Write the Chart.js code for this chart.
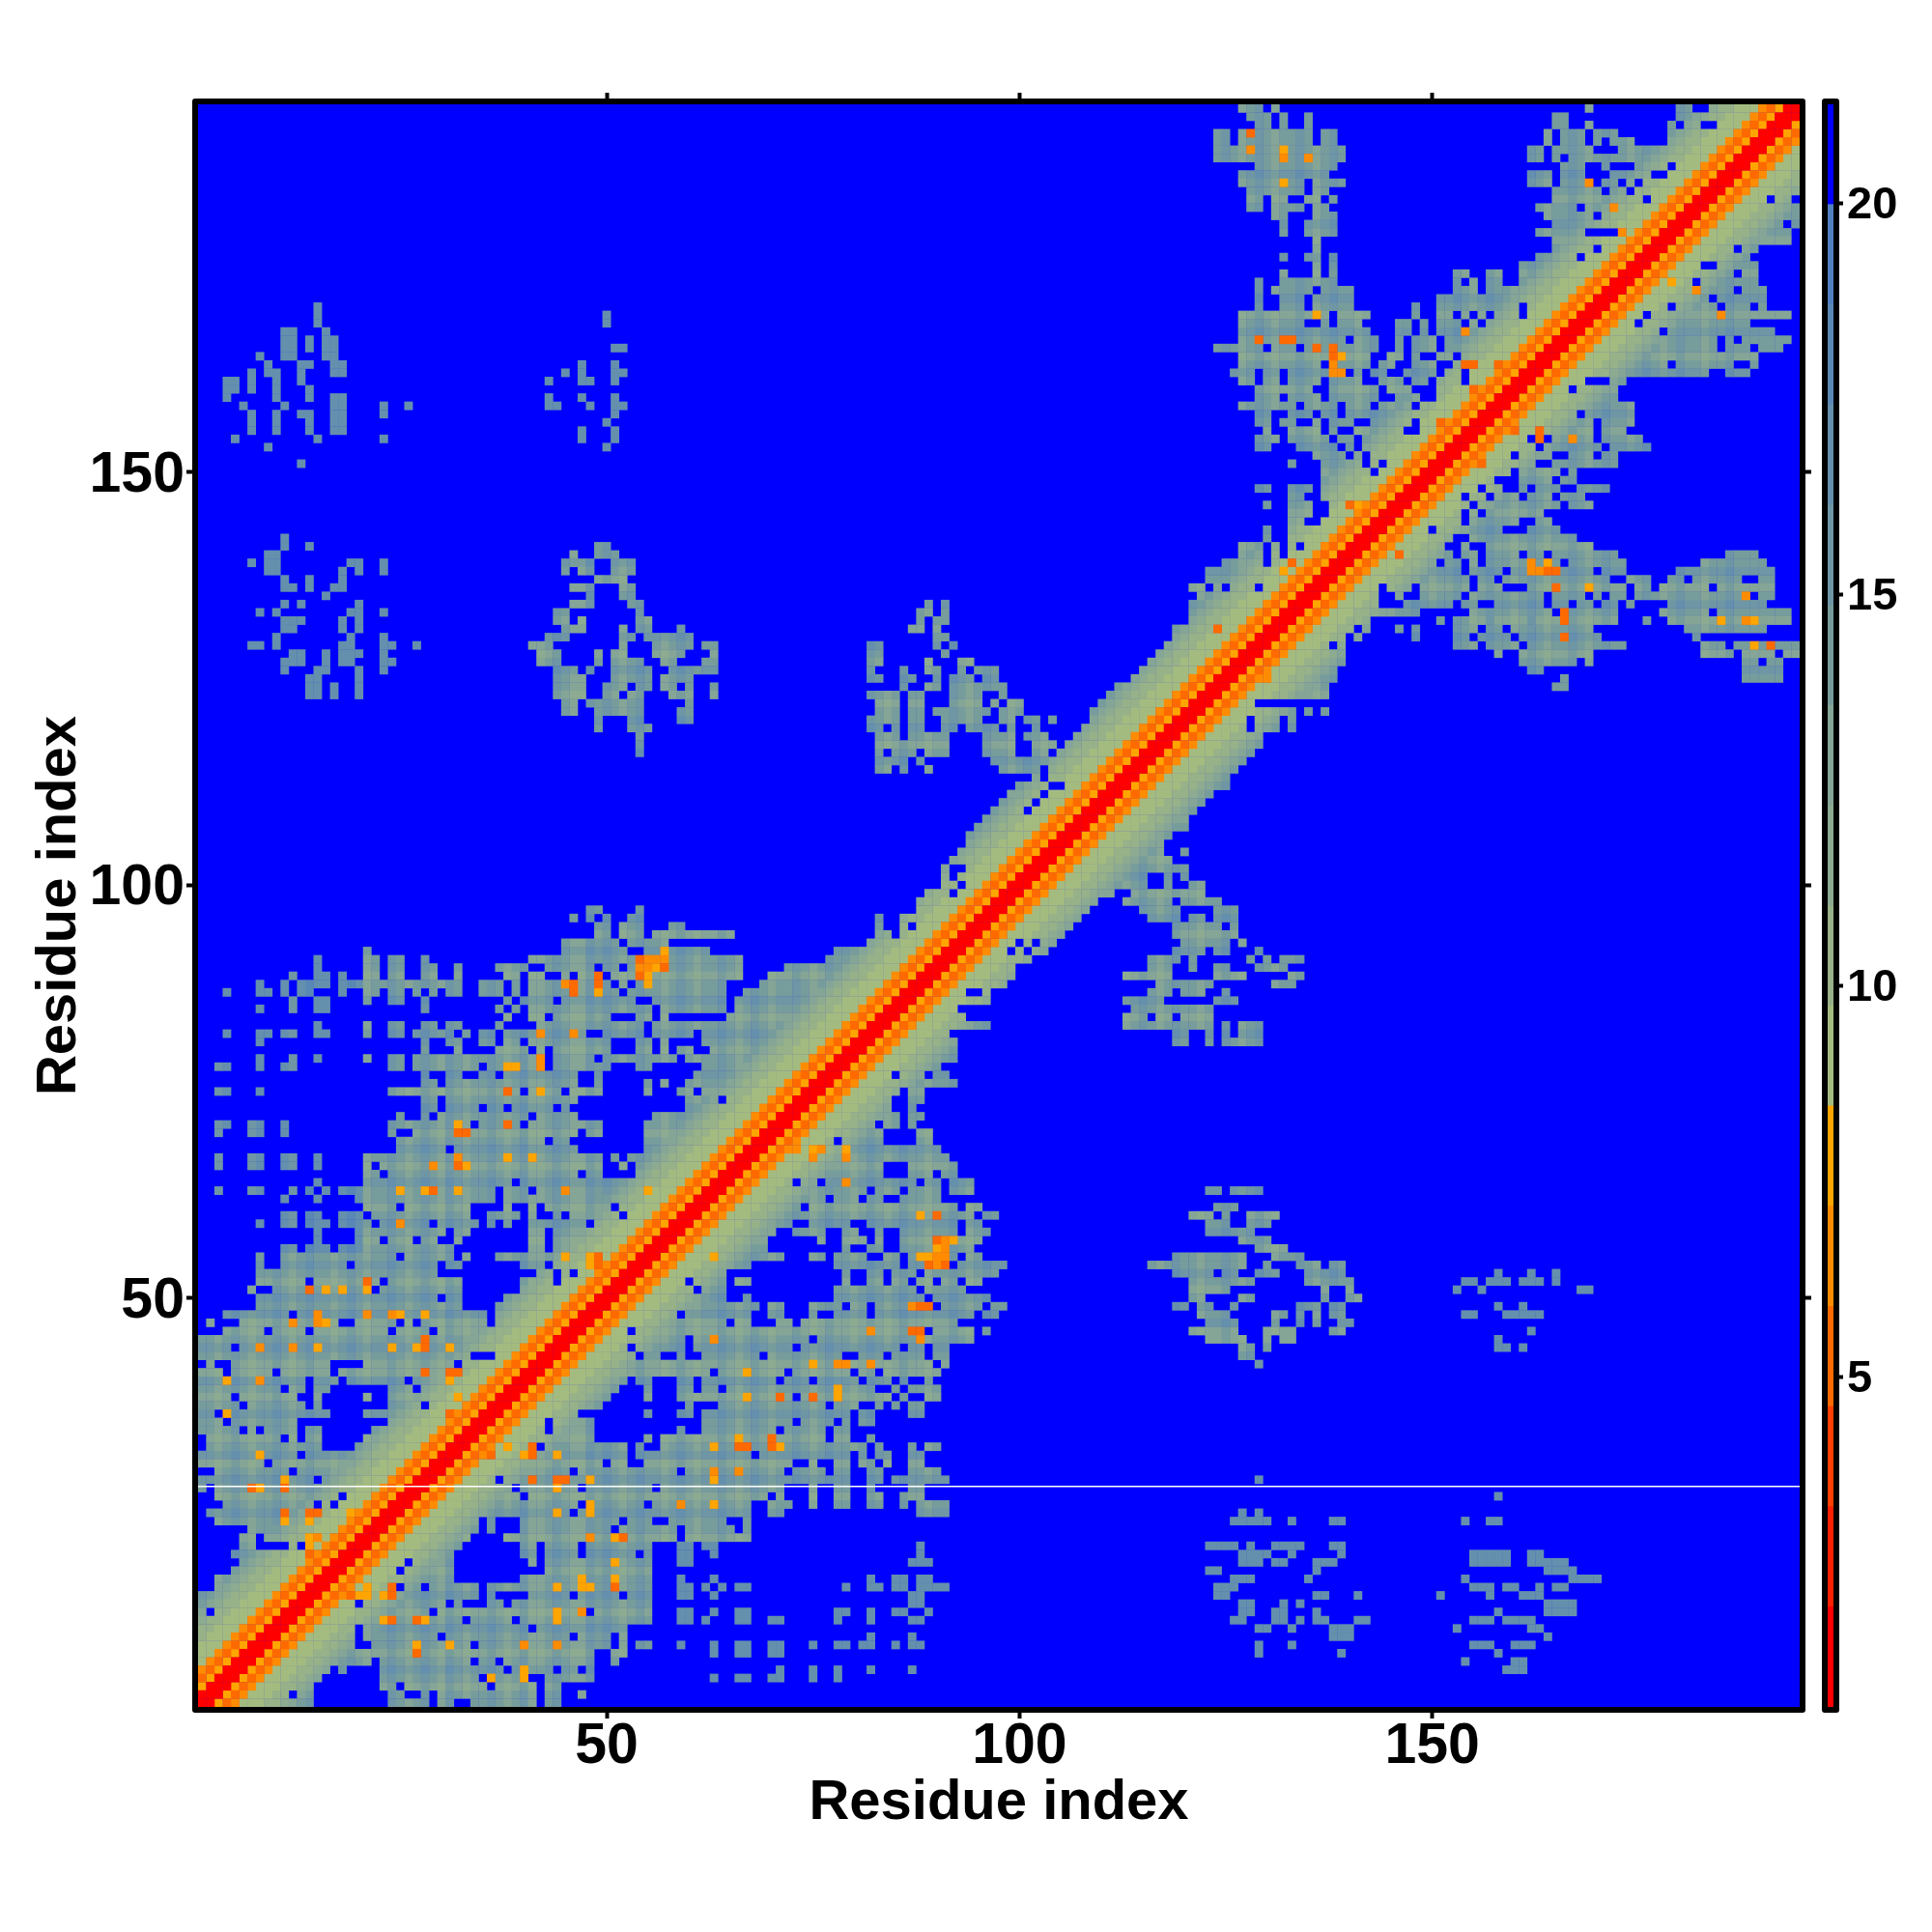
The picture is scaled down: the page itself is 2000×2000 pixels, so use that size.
<!DOCTYPE html>
<html><head><meta charset="utf-8">
<script src="https://cdn.jsdelivr.net/npm/chart.js@4/dist/chart.umd.js"></script>
<style>html,body{margin:0;background:#fff}#w{position:relative;width:2000px;height:2000px}canvas{position:absolute;top:0}</style>
</head><body><div id="w"><canvas id="m" width="2000" height="2000" style="left:0;width:2000px;height:2000px"></canvas><canvas id="b" width="200" height="2000" style="left:1800px;width:200px;height:2000px"></canvas></div>
<script>
const residueCount=194;
const tickResidues=[50,100,150];
const colorbarTicks=[5,10,15,20];
const xTitle="Residue index", yTitle="Residue index";
const levelColors=["#ff0000","#ff2000","#ff4000","#ff6a00","#ff8c00","#ffa500","#a4bb80","#97b188","#8cab90","#85a596","#779c9c","#6e96a5","#6490ad","#5a88b5","#5080c0","#0000ff"];
const levelBreaks=[0.78,2.06,3.34,4.62,5.9,7.18,8.46,9.74,11.02,12.3,13.58,14.86,16.14,17.42,18.7,19.98,21.26];
const bandProfile=[0,0,5,3,4,6,6,6,7,7,8,9,10,11,12];
const whiteLineResidue=27.2;
const sparseBoxes=[[1,56,20,98]];
const rowCorrections=[[116,194,1,64,-1],[1,63,115,141,1],[1,53,166,171,-1],[122,194,122,131,1]];
const residueShade="..+.-.+..-.+.-..+.-.+..-.+.-.+-.+..-.+.-++.-.++-.-.+.-..+.-.+..-.+.-.+..-.+.-..+.-.+.-..+..-.+.-..+.-.+..-.+.-..+.-.+.-..+..-.+.-.+..-.+.-..+.-.+..-.+..-.+.-..+.-.+..-.+.-..+.-.+.-..+..-.";
const lowerLeftRows=["1|1-14 24-28 30-31 34-41 43-44","2|1-11 13-14 24-25 28 30-41 43-44 47","3|1-14 23-24 26-35 37-41 43-44","4|1-15 23-34 36-40 43-48","5|1-16 18 23-37 39-43 45-46 48","6|1-21 23-33 35-36 38-48 51","7|1-48 51-52","8|1-19 22-33 35-50 52 54-55","9|1-19 21-29 31-45 47-50 52","10|1-19 21-40 42-52","11|1-32 34-38 40-55","12|1 3-28 30-47 49-55","13|1-19 21-30 32 36-37 39-55","14|1-34 36 41-45 47-51 53-55","15|3-24 26-27 29-34 36-55","16|3-19 21 23-31 40-55","17|5-19 21-22 24 26-31 43-55","18|6-25 27-31 41 43-55","19|5-31 40-41 43-46 48-53 55","20|6-7 12 14-15 17-25 27-32 40-41 43-46 48-55","21|6-7 9-33 38-55","22|7-15 17-34 36 40-50 52-55","23|3-16 18-34 36 40-51 53-55","24|2-45 47-55","25|4-14 16 18-46 48-54","26|3-17 19 21-39 41-55","27|1 3-38 40-46 48-55","28|1-14 16-36 38-55","29|3-11 13-45 47-55","30|1-8 10-49 51-52 55","31|1-12 14-52 54-55","32|2-15 20-41 43-52 54","33|2-10 12 14-15 21-48 55","34|1-5 7 9-12 14-15 22-42 44-48","35|1-3 5-12 24-42 44-48","36|1-2 4-16 21-46 55","37|1-5 7-13 15 24-27 29-49","38|1-4 6-12 15 21 24-50 55","39|1-10 12-13 15-16 24-26 28-51 55","40|1-13 15-17 19-25 27-52 54-55","41|1-3 5-9 11-16 18-55","42|2 5-16 21-31 33-55","43|1-33 37-53 55","44|1-4 6-52 54-55","45|1-55","46|4-8 10-13 15-23 25-28 30-52 54-55","47|2 6-17 20-24 26 28-35 37-55","48|4-11 13-35 37-55","49|8-32 37-55","50|8-29 31-32 38-55","51|7 10-21 23-32 40-55","52|8-13 15-22 24-32 40-43 45-55","53|8-29 42-43 45 47-55","54|8 11-18 20-29 31-32 40-42 44-55","55|8 11-24 26-31 33 37-55"];
const midLeftRows=["97|48-49 54","96|46 48 50 53-54","95|49-50 52-54 58-59","94|49-50 52-54 56-65","93|45-46 47-51 53-57","92|21 45-46 47-52 55-62","91|15 21-22 24-25 28 41-66","90|15 21-22 24-25 28-29 32 37-39 40 43-48 50-51 53-66","89|12 15-16 18 21-22 24-25 28-29 32 38-39 41-42 45 47-49 51-66","88|8 11 13-16 18-32 35-37 39 41-50 52 54-64","87|4 8-9 11 13-14 18 21-22 24-25 27 29 31-32 35-37 39 41-51 53-64","86|12 15-16 21 24-25 28 38 40-43 45-53 56-64","85|8 12 15-16 28 37 39 41-55 57-64","84|38 41-42 44-50 54-55 57","83|15 21 24-25 28-29 31-32 37 42-54 56-62","82|4 8-9 11-12 15-16 21 24-25 27-31 33 35-36 38-47 50-54 56-60","81|8 28 31-32 35-36 38-39 41-50 54-55 57","80|28 32 37-40 42 44-50 54-55 57 59","79|8 12 15 21 24-25 27-42 44-48 50-58","78|3-4 8 11-12 24-25 27-34 36-42 44-50 54-55","77|28 31-32 35-36 38-46 49","76|28-29 31-46 49 55 57","75|3-4 8 24-39 41-44 46-49 55","74|28-29 31-46","73|28-29 31-34 36-37 39-43 45","72|25 28 30-40 42-46","71|3-4 7-8 11 24-33 35-39 41-49 55","70|3 7-8 11 24 27-46 48-49 55","69|25-42 44-45 55","68|25-30 32-46 55","67|3 7-8 11-12 15 21-49 51 53-55","66|3 7-8 11-12 15 21 23-49 52 54-55","65|21-22 24-46 48-49 54-55","64|15 21-38 40-55","63|3 7-8 12 14 16 18-36 38-40 42-55","62|11 15 20-36 38-55","61|21-24 26-33 38 41 43-50 52-55","60|11-12 14-15 18-20 22-33 36-39 41 44 46-51 53-55","59|8 11-12 14-16 18-21 23-28 30-34 36 38 41-47 49-55","58|15 20-30 32-33 41-42 44-52 54-55","57|15 20-22 24-26 28-29 32 41-42 44-55","56|11-12 14-16 18-31 41-42 44-51 53-55"];
const lowerMidRows=["21|56-58 60-67","22|56-58 60-65 67","23|58-64 67","24|56-67 70-71 88-91","25|56-67 70-72 75 78-79 82-83 86 88-91","26|56-69 71 75 78-79 82-83 86-88","27|57-71 75 78-79 82 87-88","28|56-79 82-83 85-91","29|56-58 60-71 73-76 78-79 82-83 87-90","30|56-72 75 78-79 81-82 84 87-88","31|56-67 69-79 81 83-84 87-88","32|57-81 83 87 89-90","33|57-76 78-79 82","34|59 62-70 72-76 78-79","35|62-72 74-77 79 81-82","36|59-60 62-79 81-82 87-88","37|60 64-76 78-80 83 85 87-88","38|59-72 74-84 86 89-90","39|59-60 62-63 65-82 85 87-90","40|59-60 62-70 72-74 76-80 82-84 86 89","41|56-62 64-71 73-79 81-82 84-90","42|56-89 91","43|56 59 62-68 70-78 81-83 85-88 90-91","44|56-59 61-72 74-85 87-88 90-91","45|56-59 61-74 76-94","46|56-88 90-94 96","47|56-64 66-67 71-72 74-92","48|56-58 60-67 70-71 75 78-81 83-94 96-97","49|56-68 70-71 75-78 80-81 83-89 91-95 97-98","50|56-64 67 78-88 90-96","51|56-60 62-64 78-87 89-93","52|56-59 61-64 66-67 79 82-83 85-86 88-89 91-92 94-95","53|56 58-64 79 82-83 85-87 89-97","54|56-67 78-85 87-91 93-98","55|56-71 75-76 78-81 84-85 87-92 94-95","56|56-69 79 82-83 86-94","57|56-69 76 79-81 83 86-95","58|56-70 73-76 79-80 83 86-92 94-96","59|56-72 75-79 82-92 94-95","60|56-94 96-97","61|56-73 75-92 94-95","62|56-76 78-80 82-83 86-90","63|56-81 83-85 87-90 92-94","64|56-72 74-75 77-87 89-90 92-94","65|56-83 87-89 91-92","66|56-83 87-92","67|56-91","68|56-90","69|56-77 79-83 88-89","70|56-83 88-89","71|56-82 84-85 87","72|56-85 87-88","73|60-84 87","74|60-63 65-84 87-88","75|59-60 62-80 82-85 87-88"];
const bandRows=["76|60-92","77|61-84 86-88 90-91","78|62-90","79|60-92","80|60 63-92","81|62-92","82|62-91","83|63-96","84|65-93","85|66-92","86|66-96","87|67-93 96","88|69-98","89|70-99","90|72-95 97-99","91|77-101","92|78-98 100 102-103","93|82-95 97-99 101 103-104","94|83-84 86-87 89-96 100-105","95|83 86 88-106","96|83 86-87 88-89 91-92 94-107","97|88-93 95-108","98|88-93 95-109","99|89-91 93 96-111","100|91-92 94-112","101|91 93-112","102|91 94-113","103|92-115","104|93-116","105|94-117","106|94-118","107|95-120","108|96-120","109|97-100 102-121","110|98-101 103-122","111|99-102 104-105 107-123","112|100-103 106 108-125","113|102 104-125","114|104-126","115|104-127","116|105-128","117|106-129","118|107-129","119|108-127 129-131 133","120|109-127 129-131 133","121|109-133 135 137","122|110-132 135 137","123|111-126","124|112-126","125|114-126","126|115-126","127|116-126","128|117-122","129|118-122","130|119-122","131|119-122","132|121-122","133|121","134|121-122","135|122","138|123-124"];
const upperRightRows=["194|127-129 131 169 180-181 184-194","193|128-130 132 135 165-166 180-194","192|129-130 132 135 165-166 169 179 181-182 185-194","191|124-125 127-135 137-138 164 166-168 170-172 179-194","190|124-125 127-135 137-138 164 166-168 170 172-174 179-194","189|124-139 162-163 165-169 173-194","188|124-139 162-163 165 167-194","187|129-138 166-168 171 175-178 180-194","186|127-137 162-164 166-168 172-176 179-194","185|127-134 136-139 162-164 166-169 171-172 174 176-180 182-194","184|128-134 136-137 165-170 172-173 175-178 181-194","183|128-129 131-132 135-136 138 165-175 177-178 181-190 192-193","182|128-129 131-134 136-137 163-167 169-171 173-175 177-194","181|131-132 136-138 164-169 171-176 178-194","180|132 135-138 165-175 177-192 194","179|132 135-138 163-167 168 173-175 177-182 184-193","178|136 165-193","177|136 165-169 171-186 188-189","176|132 135-136 138 163-167 169-181 183-188","175|136 138 161-182 185-189","174|132 136 138 153-154 157-158 161-186 188-189","173|129 132-138 153 155 157-158 161-181 183-189","172|129 131-135 137-140 153-155 157-159 160-181 183-186 188-190","171|129 132-134 136-140 151-183 185-190","170|129 132-134 136-140 148 151-160 162-178 180-184 186-188 190","169|127-137 139-142 148 151-152 154 156 158-160 162-175 177-193","168|127-134 137 139-141 146-147 149 151-153 155 157-174 176-188","167|127-142 146-147 149 151-177 179-191","166|127-139 141-143 146 148-150 152-159 161-184 186 188-193","165|124-129 131-133 135-143 146 148-150 152-160 162-184 186-188 190-192","164|127-142 145-146 148 151-152 154-189","163|127-136 138-142 144-145 148-150 153-178 180-186 189","162|126-128 130-131 133-139 141 143-144 147-150 152-153 155-183 186-188","161|127-128 130-131 133-136 138-141 144-146 148-149 151-153 155-168 172-173","160|129-135 138-143 145-147 151-153 155-157 159-166 168-172","159|129-131 133-136 138-143 146-148 151-152 154-159 161-172","158|127-133 135-138 140-142 144-147 149-151 153 155-174","157|129-130 133-135 137-138 140-155 157-167 169-174","156|129-130 132-133 136 138-140 143-147 149-169 171-174","155|130 133-136 138 141-146 149-150 152-169 171-173","154|129-131 133-137 139-140 142-161 165-169 171-175","153|129-130 134-138 140 142-154 157-162 164-170 172-176","152|136-139 141 143-145 147-148 150-159 161-164 167-169 171-172","151|133 137-141 143 145-150 152-162 165-172","150|137-142 144-145 147-155 157-159 161-165 167","149|137-142 145 147-157 161-164 166-167","148|129-130 133-135 137-142 144-155 157-158 161 163-165 168-171","147|133-134 137-141 143-145 147-153 155-156 158-160 162-164 166-168","146|130 133-135 138-143 145-151 153-154 156-165 167-169","145|133-135 138-140 142-149 151-153 155 157-163","144|133-134 137 141-147 149 151-153 155-160 163-164","143|130 133-145 147 149 151-158 162-165","142|130 133-147 149-152 155-167","141|127-129 131 133 135-151 154 157-169","140|127-129 131 133 135-152 154-155 157-160 162-163 165-172 186-189","139|125-129 131-150 152-153 155 157-165 167-173 183-190","138|125-153 155-158 160-169 171-173 180-191","137|123-154 156-157 159-171 174-176 179-180 182-187 190-191","136|121-122 124 126-128 130 132-143 145-147 149-154 156-158 162-173 175-176 178-183 185-191","135|122-140 142-143 146 149-153 155-163 165-168 170 172-173 175-188 190-191","134|123-139 141-143 147-152 154-155 158-163 165-166 168-169 171-172 174 179-190","133|122-148 155-164 166-172 178-183 185-193","132|122-142 151 153-155 157-160 162-165 168-172 179-193","131|122-141 155-156 158-161 163-172 176 179-193","130|122-140 142 146 148 153-155 157-158 160-169 181-190","129|122-139 141 148 153-154 156-159 161-165 167-170 182","128|123-137 139 153-155 157-160 162-173 183-185 187-190 192-194","127|127-139 158 161-169 183-186 188-191 193-194","126|127-139 161-167 169 188-189 191-192","125|125-138 162-163 188-192","124|127-138 166 188-192","123|127-137 165-166","122|127-136"];
const midClusterRows=["134|89 91","133|88-89 91","132|88 90-91","131|87-88 90","130|90-91","129|82-83 90 92","128|82-83 91","127|82-83 89 93-94","126|82 86 89-90 93 95-97","125|82-83 86-87 90 92-94 96-97","124|86 89-90 92-98","123|82-85 87-88 92-95 98","122|83-85 87-88 92-95 97 99-100","121|83-85 87-88 90-96 98-100","120|82-85 87-88 91-95 98-99 101-102 104","119|82-83 85 87-88 91-92 94-97 99 102","118|83-85 87-91 96-99 101-103","117|83-91 96-99 102-104","116|83 85-87 89-91 96-99 102-103","115|83-86 88 97-103","114|83-84 86 89 98-102","81|119-120 123 125-129","82|119-120 123 125 127-129","83|113-123 125 127-129","84|113-115 117-118 120-123","85|114-123","86|113-117 124-126","87|116-118 120-122 125","88|117-123 131-133","89|113-118 124-127 133-134","90|116-118 121 124-125 129-132","91|116-119 121 128 130 132-134","92|119-122 124-125 129","93|120-125 127","94|119-126","95|119-124 126","96|116-119 121-122 124-126","97|115-119 124-126","98|113-118 120-124","99|114-122","100|112-115 118 121-122","101|113-115 118 120","102|114-120","103|115-118","104|117 120","140|49-50","139|46 49-51","138|45-48 51-53","137|45 47-48 51-53","136|49-52","135|46-48 52-53","134|48 52-53","133|46-48 53-54","132|44-45 54","131|44-45 47 54-55","130|45-47 52 54-55 59","129|43-45 52-53 55-60","128|41-43 52 56-60 62-63","127|42-44 49 51-52 56-59 63","126|42-44 49 51-54 57-58 62-63","125|44-46 48 51-55 58-59 60-63","124|44-47 51-55 57-60","123|44-47 50-52 54-55 57-58 60 63","122|44-47 50-51 53-54 58-60 63","121|45-46 48-54 60","120|45-46 49-54 59-60","119|49 53-54 59-60","118|49 53-55","117|54","116|54","115|54","64|123-124 126-129","62|124-126","61|121-123 125 128-131","60|123-125 128-130","59|123-128","58|127-130","57|129-132","56|119-127 131-134","55|116-127 130 134-136 138-139","54|119-123 125-126 129-131 135-139","53|121-128 135-140","52|121-125 137 140","51|121-122 127-128 137 140-141","50|119-120 122-123 126 134-136 138-139","49|122-125 131-132 134 136 138-139","48|123-126 131 134 136 139-140","47|121-126 130-133 138-139","46|123-127 130 132-133","45|127-128 130","44|127-128","43|129"];
const sparseRows=["171|15","170|15 50","169|15 50","168|11-12 16","167|11-12 14 16-17","166|11-12 14 16-17 51-52","165|11-12 14 16-17","164|8 11-12 16-17","163|9 13-14 17-18 47 51","162|7 9-10 13 17-18 45 47 51-52","161|4-5 7 10 13 43 47-48 51","160|4-5 7 10 14","159|4 10 14 17-18 43 47 51","158|6 11 17-18 23 26 43-44 48 51-52","157|7 10 13-14 17-18 23 51","156|7 10 14 17-18 50","155|7 10 14 17-18 47 51","154|5 15 23 47 51","153|9 50","151|13","141|11","140|11 14","139|9-10","138|7 9-10 19-20 23","137|9-10 18 20 23","136|11 14 18","135|11-12 14 17-18","134|16","133|11 13 20","132|8 10 19-20 23","131|11-13 18 20","130|11-12 18 20","129|10 19 23","128|7-8 10 18-19 23-24 27","127|12-13 16 18-20 23","126|11-13 16 18-19 23-24","125|11 15-16 20 23","124|14-15 20","123|14-15 17 20","122|14-15 17 20","54|158 162 165","53|154-155 157-159 161-163 165","52|153 156 168-169","50|158 161","49|154-155 159-163","47|162","46|158","45|158-159 161","29|129","27|158","25|127 129","24|126-130 133 138-139 154 157-158","21|123-126 128 131-134 138-139","20|59-60 62-63 88 127-130 133 139 155-159 162-163","19|59-60 63 88 127-129 131-132 136-138 155-159 162-166","18|59-60 87-89 123-124 136 164-167","17|126-128 135 154 167-170","16|59 63 82 85-86 88-89 124-126 155-157 159-160 163 165-166","15|59-60 62 64 66-67 79 82-83 85-86 88-91 124-125 136-137 141 151 157 161-163","14|59-60 63 87-88 127-128 132 134 164-167","13|87-88 127-128 131-132 136 158 164-167","12|59-60 63 66-67 78-79 82 85-86 89 126-127 131-132 134 136-137 141-142 155-157 159-162","11|59-60 62 66-67 70-71 78 82 87-88 129-130 133 138-140 153 162-163","10|138-140 164","9|82 87 129 133 155-157 160-162","8|59 63 66-67 70-71 75 78-79 81-82 85 87-88 129 139 158","7|63 66-67 70-71 154 160-161","6|159-161","5|71 75 78 82 87","4|63 66-67 70-71 75 78"];
const hotCells=[[14,51,3],[16,51,5],[18,51,5],[21,52,3],[21,51,5],[15,48,4],[15,47,4],[16,47,5],[12,47,4],[21,48,4],[24,48,4],[25,48,5],[28,48,5],[28,45,3],[28,44,3],[27,44,5],[24,44,5],[31,44,5],[15,44,5],[12,44,4],[8,44,4],[28,41,3],[31,41,3],[32,41,3],[31,40,5],[4,40,5],[8,40,4],[32,38,5],[31,36,3],[32,36,5],[32,35,5],[31,35,5],[4,36,5],[38,32,5],[40,31,5],[41,32,3],[41,31,3],[36,31,3],[44,31,5],[8,31,5],[41,28,3],[44,28,3],[45,28,3],[48,28,5],[11,28,5],[7,27,3],[8,27,5],[11,27,3],[44,27,5],[11,24,3],[11,23,5],[14,24,3],[15,24,3],[14,23,5],[44,24,5],[48,25,5],[48,24,5],[19,24,5],[20,23,3],[20,22,3],[48,21,4],[51,21,5],[52,21,3],[14,21,5],[15,21,4],[14,20,5],[14,19,3],[51,18,5],[47,16,5],[47,15,5],[48,15,5],[51,16,5],[51,15,3],[44,15,5],[24,15,3],[24,14,3],[23,14,5],[21,15,5],[21,14,5],[20,14,5],[19,14,3],[44,12,5],[44,11,5],[47,12,4],[23,11,5],[24,11,3],[27,11,3],[28,11,5],[27,8,5],[27,7,3],[31,8,5],[40,8,4],[44,8,4],[40,5,5],[40,4,5],[36,4,5],[45,55,5],[48,55,5],[49,55,3],[48,54,5],[49,54,3],[21,52,3],[25,63,5],[28,63,5],[29,63,3],[32,63,5],[45,63,4],[55,63,5],[25,59,4],[29,66,4],[32,66,3],[33,66,5],[32,67,4],[38,67,5],[41,67,5],[32,71,5],[32,70,3],[33,70,3],[38,71,3],[38,75,3],[42,75,5],[38,78,5],[39,78,5],[42,79,4],[42,78,4],[42,82,4],[46,82,4],[45,88,4],[46,88,3],[46,87,3],[49,89,3],[49,88,3],[49,87,5],[54,91,3],[55,91,4],[56,91,4],[57,92,5],[57,91,4],[54,90,4],[55,90,4],[56,90,5],[57,90,3],[54,89,3],[55,89,5],[55,88,5],[63,45,4],[82,46,4],[87,46,3],[88,46,3],[88,45,4],[87,49,4],[88,49,3],[89,49,3],[75,42,5],[78,42,4],[79,42,4],[82,42,4],[67,41,5],[67,38,5],[71,38,3],[75,38,3],[78,39,5],[78,38,5],[66,33,5],[66,32,3],[67,32,3],[63,32,5],[70,33,3],[70,32,3],[71,32,5],[63,29,4],[63,28,5],[66,29,4],[59,25,4],[63,25,5],[88,60,5],[90,60,3],[90,57,3],[91,57,4],[92,57,5],[90,56,5],[91,56,4],[88,55,5],[89,55,5],[90,55,4],[91,55,4],[89,54,3],[90,54,4],[91,54,3],[79,64,4],[79,68,5],[79,67,4],[75,67,4],[75,68,5],[76,68,4],[73,68,4],[63,55,5],[128,191,3],[128,189,4],[132,189,5],[132,188,4],[135,188,4],[132,185,5],[169,185,4],[172,182,4],[173,179,4],[136,169,5],[129,166,3],[132,166,3],[133,166,3],[136,165,3],[138,165,3],[138,164,3],[139,164,5],[138,163,4],[138,162,4],[139,162,4],[154,167,4],[154,163,3],[155,163,3],[158,163,3],[158,162,3],[158,161,3],[159,161,3],[155,160,3],[182,172,4],[185,169,4],[179,173,5],[151,156,3],[152,156,5],[153,156,3],[153,155,3],[160,155,3],[163,155,3],[163,154,3],[167,154,4],[162,139,4],[162,138,4],[163,138,4],[164,139,5],[164,138,3],[165,138,3],[165,136,3],[169,136,5],[166,133,3],[166,132,3],[166,129,3],[188,135,4],[185,132,5],[188,132,4],[189,132,5],[189,128,5],[191,128,3],[124,130,3],[130,124,4],[133,139,3],[132,138,5],[134,138,5],[146,142,5],[146,140,3],[141,146,5],[140,146,3],[142,146,5],[141,145,5],[156,151,3],[153,151,5]];

const BLUE=15, grid=[];
for(let r=0;r<=residueCount+1;r++) grid.push(new Array(residueCount+1).fill(BLUE));
const shadeAt=i=>({'-':1,'.':0,'+':-1}[residueShade[i-1]]||0);
const fixRow=(c,r)=>{for(const q of rowCorrections) if(c>=q[0]&&c<=q[1]&&r>=q[2]&&r<=q[3]) return r+q[4];return r;};
function addRows(rows,base){
  for(const s of rows){
    const [r0,sp]=s.split('|'); const r=+r0;
    for(const t of sp.split(' ')){
      const p=t.split('-'); const a=+p[0], b=p.length>1?+p[1]:a;
      for(let c=a;c<=b&&c<=residueCount;c++){
        let lv=base;
        if(base<12) lv=base+shadeAt(c)+shadeAt(r);
        for(const q of sparseBoxes) if(c>=q[0]&&r>=q[1]&&c<=q[2]&&r<=q[3]) lv=12+shadeAt(c);
        grid[fixRow(c,r)][c]=Math.max(6,Math.min(14,lv));
      }
    }
  }
}
addRows(lowerLeftRows,10);addRows(midLeftRows,10);addRows(lowerMidRows,10);addRows(bandRows,10);addRows(upperRightRows,10);addRows(midClusterRows,10);addRows(sparseRows,12);
for(let r=1;r<=residueCount;r++)for(let c=1;c<=residueCount;c++){
  const d=Math.abs(r-c);
  if(d<=6) grid[r][c]=bandProfile[d];
  else if(d<bandProfile.length&&grid[r][c]!==BLUE) grid[r][c]=d<=8?bandProfile[d]:Math.min(grid[r][c],bandProfile[d]);
}
for(const h of hotCells){const rr=fixRow(h[0],h[1]); if(Math.abs(h[0]-rr)>4) grid[rr][h[0]]=h[2];}
const points=levelColors.map(()=>[]);
for(let r=1;r<=residueCount;r++)for(let c=1;c<=residueCount;c++) points[grid[r][c]].push({x:c,y:r});

const FONT="'Liberation Sans'";
const fixTicks=list=>s=>{s.ticks=list.map(v=>({value:v}))};
const size=(k,v)=>s=>{s[k]=v};
const frame={id:'frame',
 beforeDatasetsDraw(ch){const a=ch.chartArea,x=ch.ctx;x.save();x.fillStyle=levelColors[BLUE];x.fillRect(a.left,a.top,a.right-a.left,a.bottom-a.top);x.restore();},
 afterDatasetsDraw(ch){const a=ch.chartArea,x=ch.ctx;x.save();x.strokeStyle='#000';x.lineWidth=6;x.lineJoin='round';x.strokeRect(a.left-3,a.top-3,a.right-a.left+6,a.bottom-a.top+6);x.restore();}};
const mark=(id,pos,w)=>({type:'linear',position:pos,min:0.5,max:194.5,afterBuildTicks:fixTicks(tickResidues),afterFit:size(w[0],w[1]),border:{display:false},grid:{drawOnChartArea:false,drawTicks:true,tickLength:12,tickWidth:4,color:'#000'},ticks:{display:false}});
const dsCells=levelColors.map((col,i)=>({type:'scatter',label:'L'+i,data:points[i],order:1,backgroundColor:col,borderWidth:0,pointStyle:'rect',pointRadius:6.3,pointHoverRadius:6.3}));
dsCells.push({type:'line',label:'line',data:[{x:0.5,y:whiteLineResidue},{x:194.5,y:whiteLineResidue}],order:0,borderColor:'#fff',borderWidth:1.5,pointRadius:0,fill:false});
const labelFont={family:FONT,weight:'bold',size:59};
new Chart(document.getElementById('m'),{type:'scatter',data:{datasets:dsCells},plugins:[frame],options:{responsive:false,animation:false,devicePixelRatio:1,events:[],layout:{padding:0},plugins:{legend:{display:false},tooltip:{enabled:false}},
 scales:{
  x:Object.assign(mark('x','bottom',['height',233]),{ticks:{display:true,color:'#000',font:labelFont,padding:-6,maxRotation:0,autoSkip:false},title:{display:true,text:xTitle,color:'#000',font:{family:FONT,weight:'bold',size:58},padding:{top:0,bottom:98}}}),
  y:Object.assign(mark('y','left',['width',205]),{ticks:{display:true,color:'#000',font:labelFont,padding:2,autoSkip:false,labelOffset:4},title:{display:true,text:yTitle,color:'#000',font:{family:FONT,weight:'bold',size:58},padding:{top:27,bottom:0}}}),
  x2:mark('x2','top',['height',108]),
  y2:mark('y2','right',['width',137])
 }}});
const barSets=levelColors.map((col,i)=>({label:'c'+i,data:[[levelBreaks[i],levelBreaks[i+1]]],backgroundColor:col,borderWidth:0,barPercentage:1,categoryPercentage:1,grouped:false}));
new Chart(document.getElementById('b'),{type:'bar',data:{labels:[''],datasets:barSets},plugins:[frame],options:{responsive:false,animation:false,devicePixelRatio:1,events:[],layout:{padding:{left:92,top:108,bottom:233,right:0}},plugins:{legend:{display:false},tooltip:{enabled:false}},
 scales:{x:{display:false},y:{position:'right',min:levelBreaks[0],max:levelBreaks[16],afterBuildTicks:fixTicks(colorbarTicks),afterFit:size('width',102),border:{display:false},grid:{drawOnChartArea:false,tickLength:10,tickWidth:4,color:'#000'},ticks:{color:'#000',font:{family:FONT,weight:'bold',size:47},padding:4,autoSkip:false,labelOffset:3}}}}});
</script></body></html>
